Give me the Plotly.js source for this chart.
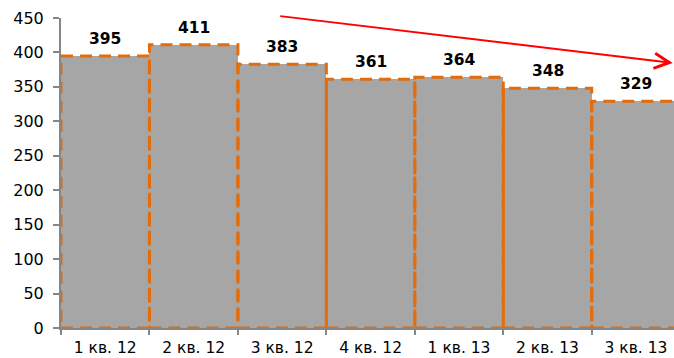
<!DOCTYPE html>
<html>
<head>
<meta charset="utf-8">
<script src="https://cdn.plot.ly/plotly-3.0.1.min.js"></script>
<style>
  html, body { margin: 0; padding: 0; background: #fff; }
  #chart { width: 674px; height: 358px; }
</style>
</head>
<body>
<div id="chart"></div>
<script>
// Quarterly values
const quarters = ['1 кв. 12', '2 кв. 12', '3 кв. 12', '4 кв. 12', '1 кв. 13', '2 кв. 13', '3 кв. 13'];
const values = [395, 411, 383, 361, 364, 348, 329];
const yTicks = [0, 50, 100, 150, 200, 250, 300, 350, 400, 450];

const fillColor = '#A6A6A6';
const edgeColor = '#E46C0A';
const axisColor = '#868686';
const font = 'DejaVu Sans, Verdana, sans-serif';

const bars = {
  type: 'bar',
  x: quarters,
  y: values,
  marker: { color: fillColor, line: { width: 0 } },
  hoverinfo: 'x+y'
};

// Dashed orange outline around each bar
const outlines = values.map((v, i) => ({
  type: 'rect',
  xref: 'x', yref: 'y',
  x0: i - 0.5, x1: i + 0.5,
  y0: 0, y1: v,
  line: { color: edgeColor, width: 3, dash: '12px,7px' },
  fillcolor: 'rgba(0,0,0,0)',
  layer: 'above'
}));

// Value labels above the bars
const labels = values.map((v, i) => ({
  xref: 'x', yref: 'y',
  x: quarters[i], y: v,
  text: String(v),
  showarrow: false,
  yanchor: 'bottom',
  yshift: 6,
  font: { family: font, size: 15.5, color: '#000', weight: 'bold' }
}));

// Downward trend arrow
const trendArrow = {
  xref: 'paper', yref: 'paper',
  x: 0.998, y: 0.855,
  ax: -394, ay: -47,
  text: '',
  showarrow: true,
  arrowhead: 5,
  arrowsize: 1.5,
  arrowwidth: 2,
  arrowcolor: '#FF0000',
  standoff: 0
};

const layout = {
  width: 674,
  height: 358,
  margin: { l: 61, r: 0, t: 18, b: 30 },
  paper_bgcolor: '#fff',
  plot_bgcolor: '#fff',
  bargap: 0,
  showlegend: false,
  font: { family: font, size: 16, color: '#000' },
  xaxis: {
    type: 'category',
    range: [-0.5, 6.43],
    tickson: 'boundaries',
    ticks: 'outside',
    ticklen: 5,
    tickwidth: 2,
    tickcolor: axisColor,
    showline: true,
    linecolor: axisColor,
    linewidth: 2,
    showgrid: false,
    ticklabelstandoff: 4,
    tickfont: { family: font, size: 15.5, color: '#000' },
    fixedrange: true
  },
  yaxis: {
    range: [0, 450],
    tickvals: yTicks,
    ticktext: yTicks.map(String),
    ticks: 'outside',
    ticklen: 6,
    tickwidth: 2,
    tickcolor: axisColor,
    showline: true,
    linecolor: axisColor,
    linewidth: 2,
    showgrid: false,
    zeroline: false,
    ticklabelstandoff: 6,
    tickfont: { family: font, size: 16, color: '#000' },
    fixedrange: true
  },
  shapes: outlines,
  annotations: labels.concat([trendArrow])
};

Plotly.newPlot('chart', [bars], layout, { displayModeBar: false, staticPlot: true });
</script>
</body>
</html>
